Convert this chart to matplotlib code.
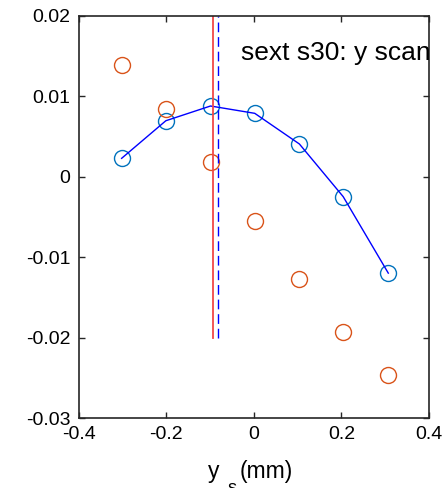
import matplotlib
matplotlib.use("Agg")
import matplotlib.pyplot as plt

plt.rcParams["font.family"] = ["Liberation Sans", "DejaVu Sans"]

# scan positions (mm) and measured responses
ys = [-0.302, -0.201, -0.099, 0.002, 0.104, 0.204, 0.307]
resp_y = [0.00226, 0.00693, 0.00876, 0.00785, 0.00404, -0.0025, -0.0120]
resp_x = [0.01385, 0.00842, 0.00176, -0.00549, -0.01273, -0.01936, -0.02466]

# markers for centre estimates
centre_red = -0.094
centre_blue = -0.0827
centre_span = [-0.02, 0.02]

x_ticks = [-0.4, -0.2, 0, 0.2, 0.4]
x_labels = ["-0.4", "-0.2", "0", "0.2", "0.4"]
y_ticks = [-0.03, -0.02, -0.01, 0, 0.01, 0.02]
y_labels = ["-0.03", "-0.02", "-0.01", "0", "0.01", "0.02"]

W, H = 443, 488
fig = plt.figure(figsize=(W / 100, H / 100), dpi=100)
ax = fig.add_axes([0.1777, 0.1434, 0.7907, 0.8248])

ax.plot(ys, resp_y, "o", mfc="none", mec="#0072BD", ms=11.5, mew=1.0)
ax.plot(ys, resp_x, "o", mfc="none", mec="#D95319", ms=11.5, mew=1.0)
ax.plot(ys, resp_y, "-", color="#0000FF", lw=1.0)
ax.plot([centre_red, centre_red], centre_span, "-", color="#F24848", lw=1.3)
ax.plot([centre_blue, centre_blue], centre_span, "--", color="#0000FF", lw=1.0,
        dashes=(7, 3.5))

ax.text(-0.0295, 0.01447, "sext s30: y scan", fontsize=19, va="baseline",
        clip_on=True)

ax.set_xlim(-0.4, 0.4)
ax.set_ylim(-0.03, 0.02)
ax.set_xticks(x_ticks, x_labels)
ax.set_yticks(y_ticks, y_labels)
ax.tick_params(direction="in", length=4, width=1.0, labelsize=14, colors="#262626",
               top=True, right=True, pad=6)
for label in ax.get_xticklabels() + ax.get_yticklabels():
    label.set_color("black")
for spine in ax.spines.values():
    spine.set_color("#262626")
    spine.set_linewidth(1.2)

# x label in MATLAB style: subscript sits low and gets cut by the figure edge
fig.text(208 / W, 1 - 477.7 / H, "y", fontsize=16.5, va="baseline")
fig.text(228 / W, 1 - 493 / H, "s", fontsize=13, va="baseline")
fig.text(240 / W, 1 - 477.7 / H, "(mm)", fontsize=16.5, va="baseline")

fig.savefig("out.png", dpi=100)
